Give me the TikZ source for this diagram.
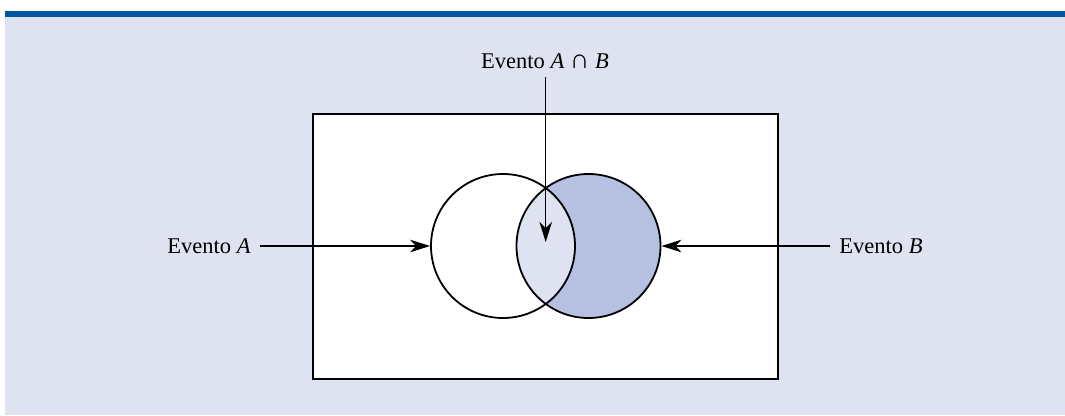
\documentclass[tikz,border=0pt]{standalone}
\usepackage{fontspec}
\setmainfont{Liberation Serif}
\usetikzlibrary{arrows.meta, positioning}
\definecolor{bandblue}{HTML}{0056A0}
\definecolor{panel}{HTML}{DFE2F1}
\definecolor{shadeB}{HTML}{B6C0E0}

\begin{document}
\begin{tikzpicture}[x=1pt, y=-1pt,
      line width=1.8pt,
      tag/.style={font=\fontsize{22.5}{26}\selectfont, inner sep=0pt, outer sep=9pt, text depth=0pt},
      event/.style={circle, draw, minimum size=144pt, inner sep=0pt},
      pointer/.style={-{Stealth[length=20pt, width=12.5pt, inset=6pt]}, line width=1.5pt}]
    \useasboundingbox (0,0) rectangle (1065,415);
    % background panel and top band
    \fill[panel] (5,17) rectangle (1065,415);
    \fill[bandblue] (5,11) rectangle (1065,17);
    % sample space
    \node[draw, fill=white, minimum width=465pt, minimum height=265pt, inner sep=0pt] (space) at (545.5,246.5) {};
    \coordinate (cA) at (503,246);
    \coordinate (cB) at (588.5,246);
    \fill[shadeB] (cB) circle (72pt);
    \begin{scope}
      \clip (cA) circle (72pt);
      \fill[panel] (cB) circle (72pt);
    \end{scope}
    \node[event] (evA) at (cA) {};
    \node[event] (evB) at (cB) {};
    % labels
    \node[tag] (lblA) at (209,246) {Evento \textit{A}};
    \node[tag] (lblB) at (881,246) {Evento \textit{B}};
    \node[tag] (lblAB) at (545,61) {Evento \textit{A} {\fontsize{27}{26}\selectfont ∩} \textit{B}};
    \coordinate (tipAB) at (545.7,242);
    \draw[pointer] (lblA.east) -- (evA.west);
    \draw[pointer] (lblB.west) -- (evB.east);
    \draw[pointer] (lblAB.south -| tipAB) -- (tipAB);
\end{tikzpicture}
\end{document}
